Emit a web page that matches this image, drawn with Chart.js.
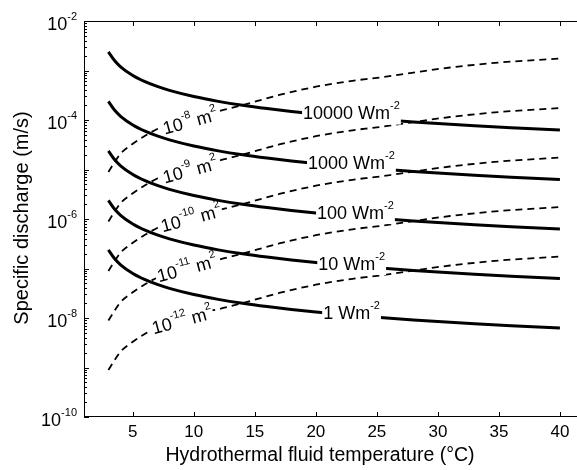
<!DOCTYPE html>
<html>
<head>
<meta charset="utf-8">
<script src="https://cdn.jsdelivr.net/npm/chart.js@4.4.1/dist/chart.umd.min.js"></script>
<style>
html, body { margin: 0; padding: 0; background: #fff; }
#wrap { width: 577px; height: 470px; }
</style>
</head>
<body>
<div id="wrap"><canvas id="chart"></canvas></div>
<script>
// temperatures (deg C) for the heat flux curves
var tempsQ = [3, 3.5, 4, 5, 6, 7, 8, 10, 12, 14, 16, 18, 20, 22, 25, 28, 30, 33, 36, 40];
// specific discharge (m/s) for each heat flux
var q1     = [2.38e-7, 1.59e-7, 1.19e-7, 7.94e-8, 5.95e-8, 4.76e-8, 3.97e-8, 2.98e-8, 2.38e-8, 1.98e-8, 1.70e-8, 1.49e-8, 1.32e-8, 1.19e-8, 1.04e-8, 9.16e-9, 8.50e-9, 7.68e-9, 7.00e-9, 6.27e-9];
var q10    = [2.38e-6, 1.59e-6, 1.19e-6, 7.94e-7, 5.95e-7, 4.76e-7, 3.97e-7, 2.98e-7, 2.38e-7, 1.98e-7, 1.70e-7, 1.49e-7, 1.32e-7, 1.19e-7, 1.04e-7, 9.16e-8, 8.50e-8, 7.68e-8, 7.00e-8, 6.27e-8];
var q100   = [2.38e-5, 1.59e-5, 1.19e-5, 7.94e-6, 5.95e-6, 4.76e-6, 3.97e-6, 2.98e-6, 2.38e-6, 1.98e-6, 1.70e-6, 1.49e-6, 1.32e-6, 1.19e-6, 1.04e-6, 9.16e-7, 8.50e-7, 7.68e-7, 7.00e-7, 6.27e-7];
var q1000  = [2.38e-4, 1.59e-4, 1.19e-4, 7.94e-5, 5.95e-5, 4.76e-5, 3.97e-5, 2.98e-5, 2.38e-5, 1.98e-5, 1.70e-5, 1.49e-5, 1.32e-5, 1.19e-5, 1.04e-5, 9.16e-6, 8.50e-6, 7.68e-6, 7.00e-6, 6.27e-6];
var q10000 = [2.38e-3, 1.59e-3, 1.19e-3, 7.94e-4, 5.95e-4, 4.76e-4, 3.97e-4, 2.98e-4, 2.38e-4, 1.98e-4, 1.70e-4, 1.49e-4, 1.32e-4, 1.19e-4, 1.04e-4, 9.16e-5, 8.50e-5, 7.68e-5, 7.00e-5, 6.27e-5];

// temperatures for the permeability curves
var tempsK = [3, 3.5, 4, 5, 6, 7, 8, 10, 12, 14, 17, 20, 23, 25, 28, 31, 35, 40];
var k12 = [8.9e-10, 1.4e-9, 2.1e-9, 3.3e-9, 4.8e-9, 6.6e-9, 8.5e-9, 1.2e-8, 1.5e-8, 2.0e-8, 3.2e-8, 4.7e-8, 6.2e-8, 7.1e-8, 9.1e-8, 1.15e-7, 1.45e-7, 1.74e-7];
var k11 = [8.9e-9, 1.4e-8, 2.1e-8, 3.3e-8, 4.8e-8, 6.6e-8, 8.5e-8, 1.2e-7, 1.5e-7, 2.0e-7, 3.2e-7, 4.7e-7, 6.2e-7, 7.1e-7, 9.1e-7, 1.15e-6, 1.45e-6, 1.74e-6];
var k10 = [8.9e-8, 1.4e-7, 2.1e-7, 3.3e-7, 4.8e-7, 6.6e-7, 8.5e-7, 1.2e-6, 1.5e-6, 2.0e-6, 3.2e-6, 4.7e-6, 6.2e-6, 7.1e-6, 9.1e-6, 1.15e-5, 1.45e-5, 1.74e-5];
var k9  = [8.9e-7, 1.4e-6, 2.1e-6, 3.3e-6, 4.8e-6, 6.6e-6, 8.5e-6, 1.2e-5, 1.5e-5, 2.0e-5, 3.2e-5, 4.7e-5, 6.2e-5, 7.1e-5, 9.1e-5, 1.15e-4, 1.45e-4, 1.74e-4];
var k8  = [8.9e-6, 1.4e-5, 2.1e-5, 3.3e-5, 4.8e-5, 6.6e-5, 8.5e-5, 1.2e-4, 1.5e-4, 2.0e-4, 3.2e-4, 4.7e-4, 6.2e-4, 7.1e-4, 9.1e-4, 1.15e-3, 1.45e-3, 1.74e-3];

var fluxNames = ['10000', '1000', '100', '10', '1'];
var permExps = ['-8', '-9', '-10', '-11', '-12'];
var xTicks = [5, 10, 15, 20, 25, 30, 35, 40];
var yExps = [-2, -4, -6, -8, -10];

// where the curve labels sit (data coordinates)
var fluxLabelPos = [[18.95, 1.41e-4], [19.36, 1.41e-5], [20.1, 1.38e-6], [20.2, 1.29e-7], [20.6, 1.32e-8]];
var permLabelPos = [[9.69, 9.5e-5], [9.69, 9.8e-6], [9.77, 1.05e-6], [9.44, 1.02e-7], [9.03, 9.1e-9]];

var FONT = '"Liberation Sans", Arial, Helvetica, sans-serif';

function pts(xs, ys) {
    return xs.map(function (x, i) { return { x: x, y: ys[i] }; });
}

// draw text pieces; sup pieces are raised and small. returns width
function rich(ctx, parts, x, y, measureOnly) {
    var cx = x;
    parts.forEach(function (p) {
        ctx.font = p.size + 'px ' + FONT;
        if (!measureOnly) ctx.fillText(p.t, cx, p.sup ? y - 0.55 * p.big : y);
        cx += ctx.measureText(p.t).width;
    });
    return cx - x;
}

function fluxParts(name) {
    return [{ t: name + ' Wm', size: 18 }, { t: '-2', size: 11, sup: true, big: 18 }];
}
function permParts(e) {
    return [{ t: '10', size: 18 }, { t: e, size: 11, sup: true, big: 18 }, { t: ' m', size: 18 }, { t: '2', size: 11, sup: true, big: 18 }];
}

var datasets = [];
[q10000, q1000, q100, q10, q1].forEach(function (s, i) {
    datasets.push({ data: pts(tempsQ, s), borderColor: '#000', borderWidth: 3, order: 0, kind: 'flux', idx: i });
});
[k8, k9, k10, k11, k12].forEach(function (s, i) {
    datasets.push({ data: pts(tempsK, s), borderColor: '#000', borderWidth: 1.8, borderDash: [7, 5], order: 1, kind: 'perm', idx: i });
});
datasets.forEach(function (d) {
    d.showLine = true; d.pointRadius = 0; d.fill = false; d.cubicInterpolationMode = 'monotone';
});

var decor = {
    id: 'decor',
    afterDatasetDraw: function (chart, args) {
        var ds = chart.data.datasets[args.index];
        if (ds.kind !== 'perm') return;
        var ctx = chart.ctx, xs = chart.scales.x, ys = chart.scales.y;
        var p = permLabelPos[ds.idx];
        var px = xs.getPixelForValue(p[0]), py = ys.getPixelForValue(p[1]);
        var parts = permParts(permExps[ds.idx]);
        ctx.save();
        ctx.translate(px, py);
        ctx.rotate(-15 * Math.PI / 180);
        var w = rich(ctx, parts, 0, 0, true);
        ctx.fillStyle = '#fff';
        ctx.fillRect(-w / 2 - 2, -6, w + 3, 12);
        ctx.fillStyle = '#000';
        ctx.textBaseline = 'alphabetic';
        rich(ctx, parts, -w / 2, 6.5);
        ctx.restore();
    },
    afterDatasetsDraw: function (chart) {
        var ctx = chart.ctx, xs = chart.scales.x, ys = chart.scales.y, ca = chart.chartArea;
        ctx.save();
        // heat flux labels
        fluxNames.forEach(function (n, i) {
            var p = fluxLabelPos[i];
            var px = xs.getPixelForValue(p[0]), py = ys.getPixelForValue(p[1]);
            var parts = fluxParts(n);
            var w = rich(ctx, parts, 0, 0, true);
            ctx.fillStyle = '#fff';
            ctx.fillRect(px - 1, py - 9, w + 2, 21);
            ctx.fillStyle = '#000';
            rich(ctx, parts, px, py + 6.5);
        });

        // axes lines
        ctx.strokeStyle = '#000';
        ctx.lineWidth = 1;
        ctx.beginPath();
        ctx.moveTo(ca.left + 0.5, ca.top);
        ctx.lineTo(ca.left + 0.5, ca.bottom);
        ctx.moveTo(ca.left, ca.top + 0.5);
        ctx.lineTo(ca.right, ca.top + 0.5);
        ctx.moveTo(ca.left, ca.bottom - 0.5);
        ctx.lineTo(ca.right, ca.bottom - 0.5);
        // x ticks, inward on top and bottom
        xTicks.forEach(function (v) {
            var x = Math.round(xs.getPixelForValue(v)) + 0.5;
            ctx.moveTo(x, ca.bottom); ctx.lineTo(x, ca.bottom - 5);
            ctx.moveTo(x, ca.top); ctx.lineTo(x, ca.top + 5);
        });
        // y ticks, log major and minor
        for (var e = -10; e <= -2; e++) {
            for (var m = 1; m <= 9; m++) {
                if (e === -2 && m > 1) break;
                var y = Math.round(ys.getPixelForValue(m * Math.pow(10, e))) + 0.5;
                ctx.moveTo(ca.left, y); ctx.lineTo(ca.left + (m === 1 ? 5 : 3), y);
            }
        }
        ctx.stroke();

        // tick labels
        ctx.fillStyle = '#000';
        ctx.textBaseline = 'middle';
        ctx.textAlign = 'center';
        ctx.font = '17px ' + FONT;
        xTicks.forEach(function (v) {
            ctx.fillText(String(v), xs.getPixelForValue(v), ca.bottom + 15);
        });
        ctx.textAlign = 'left';
        ctx.textBaseline = 'alphabetic';
        yExps.forEach(function (e) {
            var y = ys.getPixelForValue(Math.pow(10, e));
            var parts = [{ t: '10', size: 18 }, { t: String(e), size: 11, sup: true, big: 18 }];
            var w = rich(ctx, parts, 0, 0, true);
            rich(ctx, parts, ca.left - 7 - w, y + 9);
        });

        // axis titles
        ctx.textAlign = 'center';
        ctx.textBaseline = 'middle';
        ctx.font = '19.5px ' + FONT;
        ctx.fillText('Hydrothermal fluid temperature (\u00B0C)', 320, ca.bottom + 39);
        ctx.save();
        ctx.translate(22, 218);
        ctx.rotate(-Math.PI / 2);
        ctx.font = '20px ' + FONT;
        ctx.fillText('Specific discharge (m/s)', 0, 0);
        ctx.restore();
        ctx.restore();
    }
};

new Chart(document.getElementById('chart'), {
    type: 'scatter',
    data: { datasets: datasets },
    options: {
        responsive: true,
        maintainAspectRatio: false,
        animation: false,
        layout: { padding: { top: 21, right: 0, left: 0, bottom: 0 } },
        plugins: { legend: { display: false }, tooltip: { enabled: false } },
        scales: {
            x: {
                type: 'linear', min: 1, max: 41.4,
                grid: { display: false }, border: { display: false },
                ticks: { display: false },
                afterFit: function (s) { s.height = 53; }
            },
            y: {
                type: 'logarithmic', min: 1e-10, max: 1e-2,
                grid: { display: false }, border: { display: false },
                ticks: { display: false },
                afterFit: function (s) { s.width = 84; }
            }
        }
    },
    plugins: [decor]
});
</script>
</body>
</html>
